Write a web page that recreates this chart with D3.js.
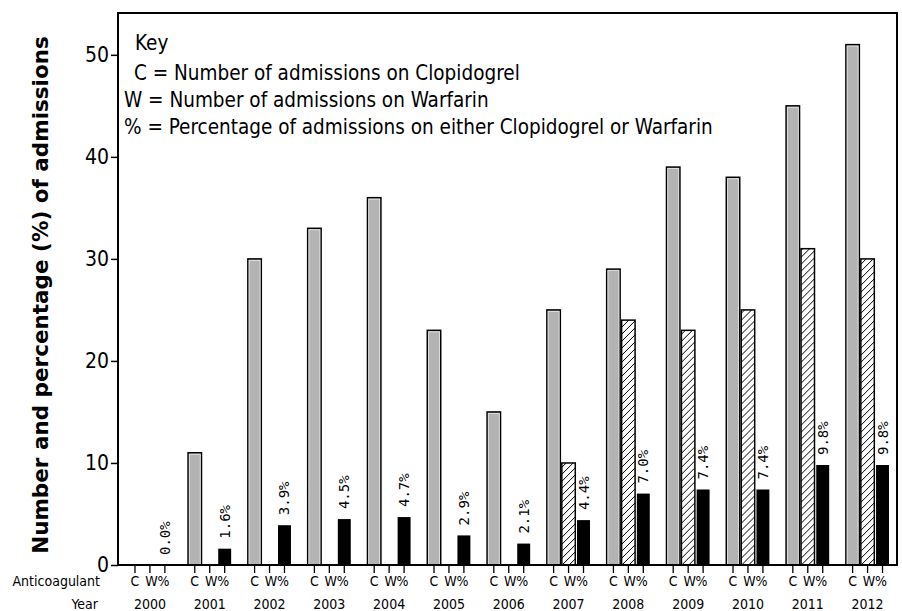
<!DOCTYPE html>
<html>
<head>
<meta charset="utf-8">
<script src="https://cdn.jsdelivr.net/npm/d3@7"></script>
<style>
  body { margin: 0; background: #fff; }
  svg { display: block; }
</style>
</head>
<body>
<svg width="902" height="611"></svg>
<script>
const years = ['2000','2001','2002','2003','2004','2005','2006','2007','2008','2009','2010','2011','2012'];
const clopidogrel = [0, 11, 30, 33, 36, 23, 15, 25, 29, 39, 38, 45, 51];
const warfarin = [0, 0, 0, 0, 0, 0, 0, 10, 24, 23, 25, 31, 30];
const percent = [0.0, 1.6, 3.9, 4.5, 4.7, 2.9, 2.1, 4.4, 7.0, 7.4, 7.4, 9.8, 9.8];
const yTicks = [0, 10, 20, 30, 40, 50];
const keyLines = [
  'Key',
  'C = Number of admissions on Clopidogrel',
  'W = Number of admissions on Warfarin',
  '% = Percentage of admissions on either Clopidogrel or Warfarin'
];

const svg = d3.select('svg');
const mLeft = 118, mRight = 897, mTop = 13, mBottom = 565;

// hachures pour la warfarine
const defs = svg.append('defs');
const pat = defs.append('pattern')
  .attr('id', 'hatch')
  .attr('patternUnits', 'userSpaceOnUse')
  .attr('width', 7).attr('height', 7);
pat.append('rect').attr('width', 7).attr('height', 7).attr('fill', '#fff');
pat.append('path')
  .attr('d', 'M-1,8 L8,-1 M-4,4 L4,-4 M3,11 L11,3')
  .attr('stroke', '#000').attr('stroke-width', 1);

const y = d3.scaleLinear().domain([0, 54.1]).range([mBottom, mTop]);

const x0 = d3.scaleBand()
  .domain(years)
  .range([127.5, 890])
  .paddingInner(0.25)
  .paddingOuter(0);

const series = ['C', 'W', '%'];
const x1 = d3.scaleBand().domain(series).range([0, x0.bandwidth()]);

const rows = years.map((yr, i) => ({
  year: yr,
  vals: [
    { key: 'C', v: clopidogrel[i] },
    { key: 'W', v: warfarin[i] },
    { key: '%', v: percent[i] }
  ]
}));

const g = svg.append('g');
const groups = g.selectAll('g.grp')
  .data(rows)
  .join('g')
  .attr('class', 'grp')
  .attr('transform', d => `translate(${x0(d.year)},0)`);

groups.selectAll('rect')
  .data(d => d.vals.filter(v => v.v > 0))
  .join('rect')
  .attr('x', v => x1(v.key) + (v.key === '%' ? 1 : 0.75))
  .attr('width', v => x1.bandwidth() - (v.key === '%' ? 2 : 1.5))
  .attr('y', v => y(v.v))
  .attr('height', v => y(0) - y(v.v))
  .attr('fill', v => v.key === 'C' ? '#b3b3b3' : v.key === 'W' ? 'url(#hatch)' : '#000')
  .attr('stroke', '#000')
  .attr('stroke-width', v => v.key === '%' ? 0 : 1.5);

// inner light edge on clopidogrel bars
groups.selectAll('rect.inner')
  .data(d => d.vals.filter(v => v.key === 'C' && v.v > 0))
  .join('rect')
  .attr('class', 'inner')
  .attr('x', v => x1(v.key) + 2)
  .attr('width', x1.bandwidth() - 4)
  .attr('y', v => y(v.v) + 1.5)
  .attr('height', v => y(0) - y(v.v) - 1.5)
  .attr('fill', 'none')
  .attr('stroke', '#e6e6e6')
  .attr('stroke-width', 0.8);

// étiquettes des pourcentages
groups.append('text')
  .attr('transform', (d, i) => `translate(${x1('%') + x1.bandwidth() / 2 + 5},${y(percent[i]) - 10}) rotate(-90)`)
  .attr('font-family', 'DejaVu Sans Mono')
  .attr('font-size', 14)
  .attr('fill', '#000')
  .text((d, i) => percent[i].toFixed(1) + '%');

// cadre
svg.append('rect')
  .attr('x', mLeft).attr('y', mTop)
  .attr('width', mRight - mLeft).attr('height', mBottom - mTop)
  .attr('fill', 'none').attr('stroke', '#000').attr('stroke-width', 2);

// axe y
const yAxis = svg.append('g')
  .attr('transform', `translate(${mLeft},0)`)
  .call(d3.axisLeft(y).tickValues(yTicks).tickSize(7).tickPadding(2).tickFormat(d3.format('d')));
yAxis.select('.domain').remove();
yAxis.selectAll('line').attr('stroke-width', 1.5);
yAxis.selectAll('text')
  .attr('font-family', 'DejaVu Sans Condensed')
  .attr('font-size', 21)
  .attr('fill', '#000');

// ticks sous l'axe
const tickData = [];
years.forEach(yr => series.forEach(s => tickData.push({ yr, s })));
svg.append('g').selectAll('line')
  .data(tickData)
  .join('line')
  .attr('x1', d => x0(d.yr) + x1(d.s) + x1.bandwidth() / 2)
  .attr('x2', d => x0(d.yr) + x1(d.s) + x1.bandwidth() / 2)
  .attr('y1', mBottom).attr('y2', mBottom + 8)
  .attr('stroke', '#000').attr('stroke-width', 1.3);

svg.append('g').selectAll('text')
  .data(tickData)
  .join('text')
  .attr('x', d => x0(d.yr) + x1(d.s) + x1.bandwidth() / 2 + (d.s === 'W' ? 1.5 : d.s === '%' ? -1.5 : 0))
  .attr('y', 586)
  .attr('text-anchor', 'middle')
  .attr('font-family', 'DejaVu Sans Condensed')
  .attr('font-size', 14)
  .text(d => d.s);

svg.append('g').selectAll('text')
  .data(years)
  .join('text')
  .attr('x', d => x0(d) + x1('W') + x1.bandwidth() / 2)
  .attr('y', 609)
  .attr('text-anchor', 'middle')
  .attr('font-family', 'DejaVu Sans Condensed')
  .attr('font-size', 14)
  .text(d => d);

svg.append('text')
  .attr('x', 100).attr('y', 586)
  .attr('text-anchor', 'end')
  .attr('font-family', 'DejaVu Sans Condensed')
  .attr('font-size', 14)
  .text('Anticoagulant');
svg.append('text')
  .attr('x', 98).attr('y', 609)
  .attr('text-anchor', 'end')
  .attr('font-family', 'DejaVu Sans Condensed')
  .attr('font-size', 14)
  .text('Year');

// titre de l'axe y
svg.append('text')
  .attr('transform', `translate(48,${(mTop + mBottom) / 2 + 6}) rotate(-90)`)
  .attr('text-anchor', 'middle')
  .attr('font-family', 'DejaVu Sans')
  .attr('font-weight', 'bold')
  .attr('font-size', 21.5)
  .text('Number and percentage (%) of admissions');

// légende
const keyPos = [[135, 50], [134, 80], [124, 107], [124, 134]];
svg.append('g').selectAll('text')
  .data(keyLines)
  .join('text')
  .attr('x', (d, i) => keyPos[i][0])
  .attr('y', (d, i) => keyPos[i][1])
  .attr('font-family', 'DejaVu Sans Condensed')
  .attr('font-size', 20.5)
  .text(d => d);
</script>
</body>
</html>
